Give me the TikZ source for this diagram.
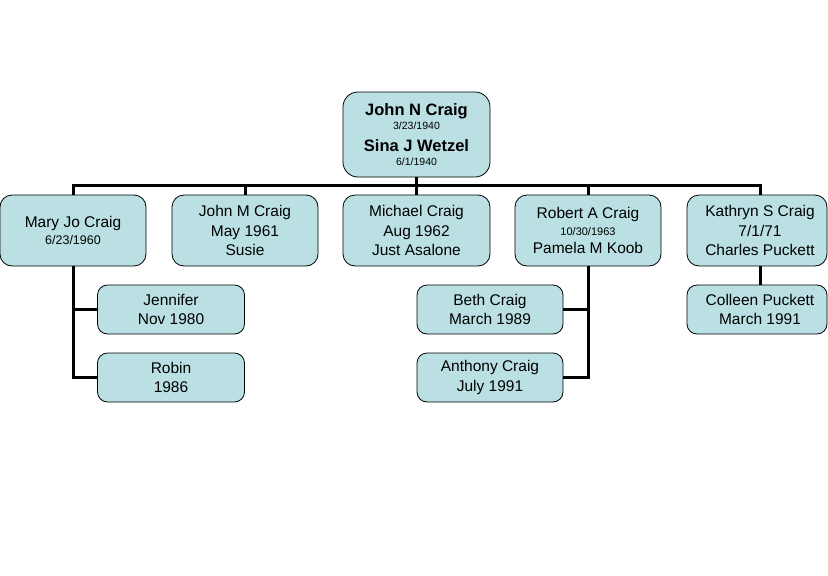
\documentclass[tikz,border=0pt]{standalone}
\usepackage{fontspec}
\setmainfont{Liberation Sans}
\definecolor{boxfill}{RGB}{187,224,227}
\newcommand{\fs}[2]{\fontsize{#1}{#2}\selectfont}
\begin{document}
\begin{tikzpicture}[x=1pt,y=-1pt,
  box/.style={draw=black,line width=0.8pt,fill=boxfill,rounded corners=12pt,align=center,inner sep=0pt,font=\fs{15.5}{19.5}},
  bigbox/.style={box,minimum width=146pt,minimum height=71pt},
  smallbox/.style={box,minimum width=147pt,minimum height=49pt,rounded corners=10pt},
  conn/.style={draw=black,line width=3pt}]
\useasboundingbox (0,0) rectangle (828,576);
\node[box,minimum width=147pt,minimum height=85pt,rounded corners=15pt] (top) at (416.5,134.5)
  {{\bfseries\fs{16.5}{17}John N Craig}\\[-6pt]{\fs{10.5}{17}3/23/1940}\\[3pt]{\bfseries\fs{16.5}{17}Sina J Wetzel}\\[-6pt]{\fs{10.5}{14}6/1/1940}};
\node[bigbox] (mary) at (73,230.5) {Mary Jo Craig\\[-3pt]{\fs{12.5}{15}6/23/1960}};
\node[bigbox] (john) at (245,230.5) {John M Craig\\May 1961\\Susie};
\node[bigbox,minimum width=147pt] (mich) at (416.5,230.5) {Michael Craig\\Aug 1962\\Just Asalone};
\node[bigbox] (rob) at (588,230.5) {Robert A Craig\\[-3pt]{\fs{11}{15}10/30/1963}\\[-1pt]Pamela M Koob};
\node[bigbox,minimum width=140pt] (kath) at (757,230.5) {\hspace*{6pt}Kathryn S Craig\\\hspace*{6pt}7/1/71\\\hspace*{6pt}Charles Puckett};
\node[smallbox] (jen) at (171,309.5) {Jennifer\\Nov 1980};
\node[smallbox] (robin) at (171,377.5) {Robin\\1986};
\node[smallbox,minimum width=146pt] (beth) at (490,309.5) {Beth Craig\\March 1989};
\node[smallbox,minimum width=146pt] (anth) at (490,377.5) {Anthony Craig\\July 1991};
\node[smallbox,minimum width=140pt] (coll) at (757,309.5) {\hspace*{6pt}Colleen Puckett\\\hspace*{6pt}March 1991};
\coordinate (bus) at (416.5,185);
\draw[conn] (top.south) -- (bus);
\draw[conn] (mary.north) |- (bus) -| ([xshift=3pt]kath.north);
\draw[conn] (john.north) -- (john.north |- bus);
\draw[conn] (mich.north) -- (mich.north |- bus);
\draw[conn] (rob.north) -- (rob.north |- bus);
\draw[conn] (mary.south) |- (robin.west);
\draw[conn] (jen.west) -- (jen.west -| mary.south);
\draw[conn] (rob.south) |- (anth.east);
\draw[conn] (beth.east) -- (beth.east -| rob.south);
\draw[conn] ([xshift=3pt]kath.south) -- ([xshift=3pt]coll.north);
\end{tikzpicture}
\end{document}
